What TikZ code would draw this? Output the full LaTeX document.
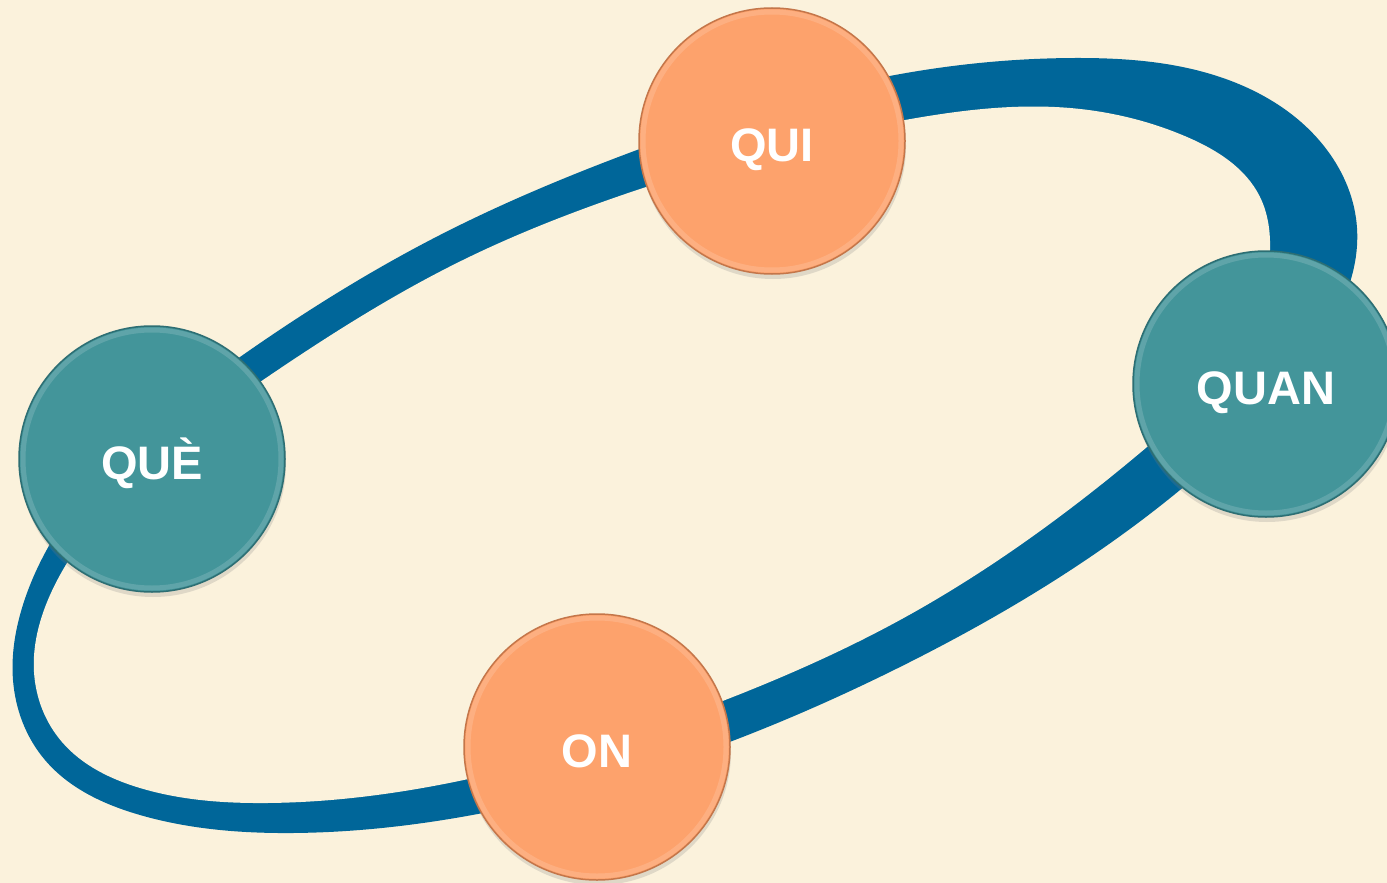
\documentclass[tikz,border=0pt]{standalone}
\usepackage{fontspec}
\setmainfont{Liberation Sans}
\newfontfamily\ballfont{Liberation Sans Bold}
\usetikzlibrary{shadows,hobby}
\definecolor{parchment}{RGB}{251,242,220}
\definecolor{ringblue}{RGB}{0,102,153}
\definecolor{tealball}{RGB}{67,149,154}
\definecolor{tealedge}{RGB}{45,110,115}
\definecolor{orangeball}{RGB}{253,162,108}
\definecolor{orangeedge}{RGB}{196,118,74}
\tikzset{
  ball/.style = {circle, minimum size=#1, inner sep=0pt, outer sep=0pt,
                 line width=1.5pt, text=white, text height=40pt, text depth=0pt,
                 font=\ballfont\fontsize{47}{52}\selectfont,
                 drop shadow={shadow xshift=1pt, shadow yshift=-5pt, opacity=0.22},
                 path picture={\draw[white, opacity=0.15, line width=5pt]
                   (path picture bounding box.center) circle (#1/2-4pt);}},
  ball/.default = 266pt,
  teal/.style   = {ball, fill=tealball, draw=tealedge},
  orange/.style = {ball, fill=orangeball, draw=orangeedge}
}

\begin{document}
\begin{tikzpicture}[x=1pt, y=-1pt]
	\useasboundingbox (0,0) rectangle (1387,883);
	\fill[parchment] (0,0) rectangle (1387,883);

	% Ring: outer edge in blue, inner edge cut out again
	\fill[ringblue, use Hobby shortcut, closed=true]
	  (45,553) .. (240,357) .. (440,235) .. (637,150) .. (895,75) .. (1075,58)
	  .. (1220,77) .. (1327,150) .. (1357,228) .. (1300,370) .. (1180,490)
	  .. (900,667) .. (727,743) .. (483,813) .. (293,833) .. (140,815)
	  .. (45,760) .. (13,680) .. (22,608);
	\fill[parchment, use Hobby shortcut, closed=true]
	  (67,563) .. (263,380) .. (463,260) .. (643,188) .. (905,120) .. (1070,108)
	  .. (1187,137) .. (1260,197) .. (1270,250) .. (1235,355) .. (1147,447)
	  .. (900,620) .. (720,702) .. (473,778) .. (267,803) .. (140,788)
	  .. (62,742) .. (34,672) .. (44,610);

	% Balls
	\node[orange] (qui)  at (772,141)  {QUI};
	\node[teal]   (quan) at (1266,384) {QUAN};
	\node[teal]   (que)  at (152,459)  {QUÈ};
	\node[orange] (on)   at (597,747)  {ON};

\end{tikzpicture}
\end{document}
